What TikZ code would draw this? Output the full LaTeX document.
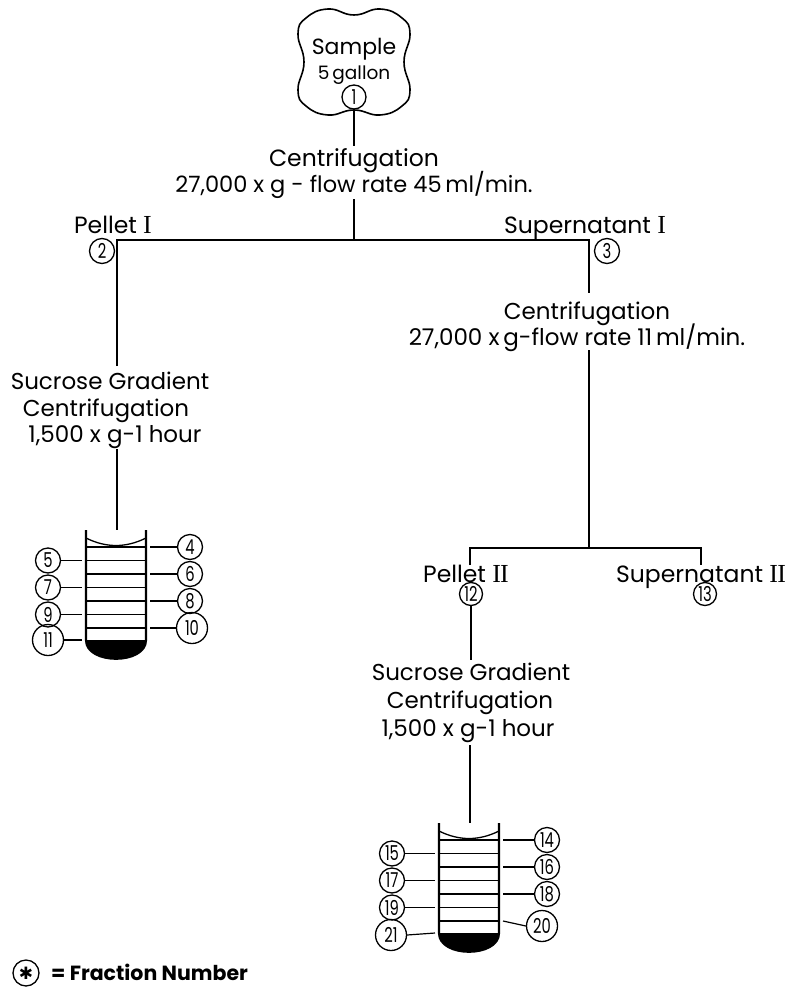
\documentclass[tikz,border=0pt]{standalone}
\usepackage{fontspec}
\setmainfont{Poppins}
\newfontfamily\numf[FakeStretch=0.72]{Poppins}
\newfontfamily\romf{Liberation Serif}
\newfontfamily\symf{DejaVu Sans}
\newcommand\RI{{\romf\fontsize{26}{26}\selectfont I}}
\newcommand\RII{{\romf\fontsize{26}{26}\selectfont I\kern-0.8pt I}}
\tikzset{
  lbl/.style={inner sep=0pt, anchor=base, font=\fontsize{23.5}{26}\selectfont},
  sublbl/.style={lbl, font=\fontsize{23}{26}\selectfont},
  conn/.style={line width=1.5pt},
  lead/.style={line width=1.2pt},
  num/.style={circle, draw, line width=1.3pt, inner sep=0pt, minimum size=25pt, font=\numf\fontsize{20.5}{20}\selectfont},
  bignum/.style={num, minimum size=31pt},
  wall/.style={line width=2.2pt},
  layer/.style={line width=1.3pt},
}
\newcommand\drawtube[2]{%
  \draw[wall] ({#1-30},{#2}) -- ({#1-30},{#2+110}) .. controls ({#1-30},{#2+135}) and ({#1+30},{#2+135}) .. ({#1+30},{#2+110}) -- ({#1+30},{#2});
  \fill ({#1-30},{#2+110}) .. controls ({#1-30},{#2+135}) and ({#1+30},{#2+135}) .. ({#1+30},{#2+110}) -- cycle;
  \draw[layer] ({#1-30},{#2+8}) .. controls ({#1-10},{#2+18}) and ({#1+10},{#2+18}) .. ({#1+30},{#2+8});
  \foreach \k in {0,...,6} \draw[layer] ({#1-30},{#2+17+13.5*\k}) -- ({#1+30},{#2+17+13.5*\k});
}
\begin{document}
\begin{tikzpicture}[x=1pt,y=-1pt]
\useasboundingbox (0,0) rectangle (795,987);
% ---- sample cloud
\draw[line width=1.6pt] plot[smooth cycle, tension=0.8] coordinates {(354,15) (380,9) (402,18) (410,34) (404,62) (410,90) (402,106) (380,115) (354,110) (328,115) (306,106) (298,90) (304,62) (298,34) (306,18) (328,9)};
\node[lbl, font=\fontsize{22}{24}\selectfont] (sample) at (354,55) {Sample};
\node[lbl, font=\fontsize{18.5}{20}\selectfont] (gal) at (354,80) {5\,gallon};
\node[num, minimum size=24pt] (n1) at (354,97) {1};
% ---- first centrifugation
\coordinate (j0) at (354,146);
\node[lbl] (c1a) at (354,167) {Centrifugation};
\node[lbl, font=\fontsize{22.5}{26}\selectfont] (c1b) at (354,193) {27,000 x g - flow rate 45\,ml/min.};
\coordinate (j1) at (354,199);
\coordinate (b1) at (354,240);
\coordinate (b1L) at (117,240);
\coordinate (b1R) at (589,240);
\draw[conn] (n1.south) -- (j0);
\draw[conn] (j1) -- (b1);
% ---- pellet I branch
\node[lbl] (p1) at (113,233) {Pellet \RI};
\node[num] (n2) at (102,251) {2};
\node[lbl] (s1) at (585,233) {Supernatant \RI};
\node[num] (n3) at (607,251) {3};
\coordinate (lv1) at (117,366);
\coordinate (rv1) at (589,293);
\draw[conn] (lv1) -- (b1L) -- (b1R) -- (rv1);
% left sucrose
\node[sublbl] (sg1a) at (110,389) {Sucrose Gradient};
\node[sublbl] (sg1b) at (106,416) {Centrifugation};
\node[sublbl] (sg1c) at (115,442) {1,500 x g-1 hour};
\coordinate (lv2) at (117,449);
\coordinate (t1top) at (117,530);
\draw[conn] (lv2) -- (t1top);
\drawtube{116}{530}
\coordinate (t1R) at (150,0);
\coordinate (t1L) at (82,0);
\node[num] (n4) at (190,547) {4};
\node[num] (n6) at (190,574) {6};
\node[num] (n8) at (190,601) {8};
\node[bignum] (n10) at (192,628) {10};
\node[num] (n5) at (48,560.5) {5};
\node[num] (n7) at (48,587.5) {7};
\node[num] (n9) at (48,614.5) {9};
\node[bignum] (n11) at (48,640) {11};
\foreach \n in {n4,n6,n8,n10} \draw[lead] (\n.west) -- (\n.west -| t1R);
\foreach \n in {n5,n7,n9,n11} \draw[lead] (\n.east) -- (\n.east -| t1L);
% ---- right branch
\node[sublbl] (c2a) at (587,319) {Centrifugation};
\node[sublbl] (c2b) at (577,345) {27,000 x\,g{-}flow rate 11\,ml/min.};
\coordinate (rv2) at (589,350);
\coordinate (b2) at (589,548);
\coordinate (b2L) at (470,548);
\coordinate (b2R) at (701,548);
\coordinate (b2Le) at (470,565);
\coordinate (b2Re) at (701,565);
\draw[conn] (rv2) -- (b2);
\draw[conn] (b2Le) -- (b2L) -- (b2R) -- (b2Re);
\node[lbl] (p2) at (466,582) {Pellet \RII};
\node[num, minimum size=23pt] (n12) at (471,594) {12};
\node[lbl] (s2) at (701,582) {Supernatant \RII};
\node[num, minimum size=23pt] (n13) at (705,594) {13};
\coordinate (rv3) at (471,660);
\draw[conn] (n12.south) -- (rv3);
\node[sublbl] (sg2a) at (471,680) {Sucrose Gradient};
\node[sublbl] (sg2b) at (470,708) {Centrifugation};
\node[sublbl] (sg2c) at (468,736) {1,500 x g-1 hour};
\coordinate (rv4) at (470,745);
\coordinate (t2top) at (470,823);
\draw[conn] (rv4) -- (t2top);
\drawtube{469}{823}
\coordinate (t2R) at (503,0);
\coordinate (t2L) at (435,0);
\node[num] (n14) at (547,840) {14};
\node[num] (n16) at (547,867) {16};
\node[num] (n18) at (547,894) {18};
\node[bignum] (n20) at (542,926) {20};
\node[num] (n15) at (392,853.5) {15};
\node[num] (n17) at (392,880.5) {17};
\node[num] (n19) at (392,907.5) {19};
\node[bignum] (n21) at (391,935) {21};
\foreach \n in {n14,n16,n18} \draw[lead] (\n.west) -- (\n.west -| t2R);
\coordinate (l20) at (503,921);
\draw[lead] (n20.west) -- (l20);
\coordinate (l21) at (435,933);
\draw[lead] (n21.east) -- (l21);
\foreach \n in {n15,n17,n19} \draw[lead] (\n.east) -- (\n.east -| t2L);
% ---- legend
\node[num, minimum size=26pt, font=\symf\fontsize{17}{17}\selectfont] (leg) at (26,973) {✱};
\node[inner sep=0pt, anchor=base west, font=\bfseries\fontsize{20.5}{22}\selectfont] (legt) at (51,980) {= Fraction Number};
\end{tikzpicture}
\end{document}
